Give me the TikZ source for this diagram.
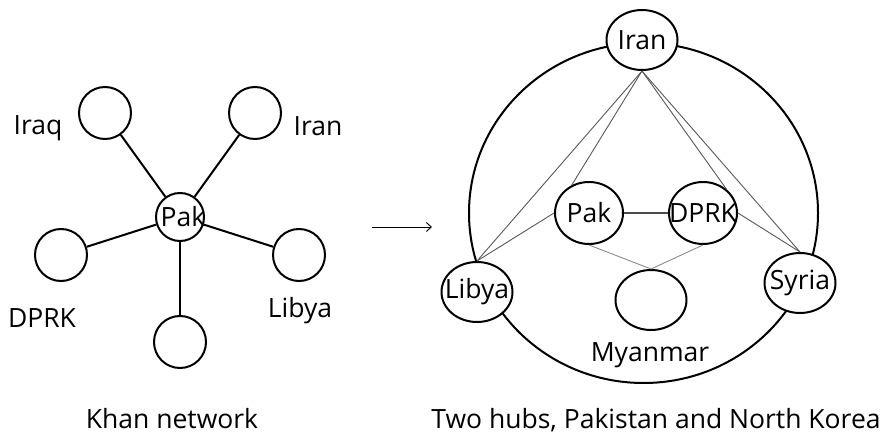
\documentclass[tikz,border=0pt]{standalone}
\usepackage{fontspec}
\setmainfont{Open Sans}
\usetikzlibrary{shapes.geometric,arrows.meta}
\begin{document}
\begin{tikzpicture}[x=1pt,y=-1pt,
  every node/.style={font=\fontsize{26.5}{30}\selectfont},
  inlbl/.style={inner sep=0pt,fill=none},
  sat/.style={circle,draw,line width=2pt,minimum size=52pt,inner sep=0pt,fill=white},
  hub/.style={circle,draw,line width=2pt,minimum size=48pt,inner sep=0pt,fill=white},
  ell/.style={ellipse,draw,line width=2pt,inner sep=0pt,fill=white,minimum width=71pt,minimum height=60pt},
  cell/.style={ellipse,draw,line width=2pt,inner sep=0pt,fill=white,minimum width=68pt,minimum height=62pt},
  txt/.style={anchor=base,inner sep=0pt},
  spoke/.style={line width=2pt},
  link/.style={draw=black!65,line width=0.9pt},
  faint/.style={draw=black!45,line width=0.9pt}]
\useasboundingbox (0,0) rectangle (888,435);
\fill[white] (0,0) rectangle (888,435);

% ---------- left: Khan network ----------
\node[hub,label={[inlbl,xshift=3pt]center:Pak}] (pakL) at (180,217) {};
\node[sat] (iraqC) at (105,113) {};
\node[sat] (iranC) at (255,113) {};
\node[sat] (dprkC) at (61,255) {};
\node[sat] (libyaC) at (299,255) {};
\node[sat] (botC) at (180,342) {};
\foreach \n in {iraqC,iranC,dprkC,libyaC,botC} \draw[spoke] (pakL) -- (\n);
\node[txt] (tIraq) at (38,135) {Iraq};
\node[txt] (tIran) at (318,136) {Iran};
\node[txt] (tDprk) at (42,327) {DPRK};
\node[txt] (tLibya) at (300,318) {Libya};
\node[txt] (capL) at (172,428) {Khan network};

% ---------- arrow ----------
\coordinate (a1) at (372,227);
\coordinate (a2) at (432,227);
\draw[line width=0.9pt,-{Straight Barb[length=5pt,width=9pt]}] (a1) -- (a2);

% ---------- right: two hubs ----------
\node[ellipse,draw,line width=2pt,minimum width=349pt,minimum height=340pt,inner sep=0pt] (ring) at (643.5,213) {};
\node[ell,label={[inlbl]center:Iran}] (iran) at (642,40) {};
\node[cell,label={[inlbl]center:Pak}] (pak) at (589,213) {};
\node[cell,label={[inlbl]center:DPRK}] (dprk) at (703,213) {};
\node[ell,label={[inlbl]center:Libya}] (libya) at (477,292) {};
\node[ell,label={[inlbl]center:Syria}] (syria) at (800,283) {};
\node[ell] (myan) at (651,300) {};
\node[txt] (tMyan) at (650,361) {Myanmar};

\draw[link] (iran.south) -- (libya.north);
\draw[link] (iran.south) -- (pak.122);
\draw[link] (pak.west) -- (libya.north);
\draw[link] (iran.south) -- (syria.north);
\draw[link] (iran.south) -- (dprk.45);
\draw[link] (dprk.east) -- (syria.north);
\draw[draw=black!70,line width=1.1pt] (pak.east) -- (dprk.west);
\draw[faint] (pak.south) -- (myan.north);
\draw[faint] (dprk.south) -- (myan.north);

\node[txt] (capR) at (656,428) {Two hubs, Pakistan and North Korea};
\end{tikzpicture}
\end{document}
